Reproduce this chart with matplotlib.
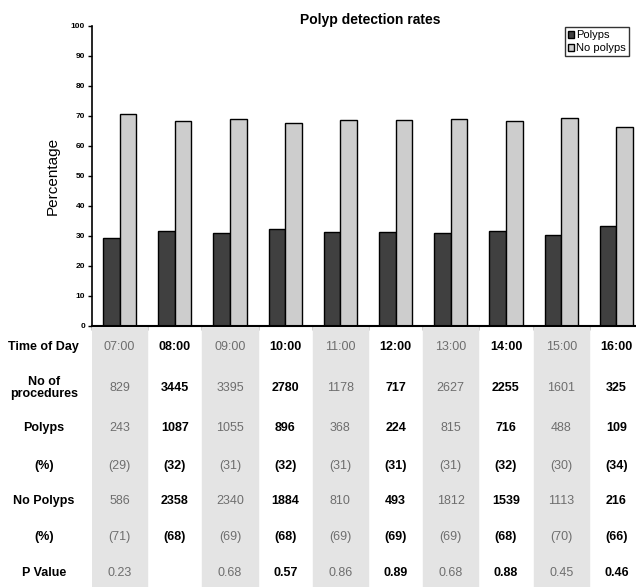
import matplotlib.pyplot as plt
import numpy as np

plt.rcParams['font.family'] = ['Liberation Sans', 'DejaVu Sans']

times = ["07:00", "08:00", "09:00", "10:00", "11:00", "12:00", "13:00", "14:00", "15:00", "16:00"]
polyps_pct = [29.3, 31.6, 31.1, 32.2, 31.2, 31.2, 31.0, 31.8, 30.5, 33.5]
no_polyps_pct = [70.7, 68.4, 68.9, 67.8, 68.8, 68.8, 69.0, 68.2, 69.5, 66.5]

n_procedures = ["829", "3445", "3395", "2780", "1178", "717", "2627", "2255", "1601", "325"]
n_polyps = ["243", "1087", "1055", "896", "368", "224", "815", "716", "488", "109"]
pct_polyps = ["(29)", "(32)", "(31)", "(32)", "(31)", "(31)", "(31)", "(32)", "(30)", "(34)"]
n_no_polyps = ["586", "2358", "2340", "1884", "810", "493", "1812", "1539", "1113", "216"]
pct_no_polyps = ["(71)", "(68)", "(69)", "(68)", "(69)", "(69)", "(69)", "(68)", "(70)", "(66)"]
p_values = ["0.23", "", "0.68", "0.57", "0.86", "0.89", "0.68", "0.88", "0.45", "0.46"]

row_labels = ["Time of Day", "No of\nprocedures", "Polyps", "(%)", "No Polyps", "(%)", "P Value"]
rows = [times, n_procedures, n_polyps, pct_polyps, n_no_polyps, pct_no_polyps, p_values]
row_y = [347, 388, 428, 466, 501, 537, 573]  # pixel rows in the table area

W, H = 636, 587
fig = plt.figure(figsize=(W/100, H/100), dpi=100)

# bar chart
ax = fig.add_axes([92/W, (H-326)/H, 552/W, 300/H])
x = np.arange(len(times))
bw = 0.3
ax.bar(x - bw/2, polyps_pct, bw, color="#404040", edgecolor="black", linewidth=1, label="Polyps")
ax.bar(x + bw/2, no_polyps_pct, bw, color="#cdcdcd", edgecolor="black", linewidth=1, label="No polyps")
ax.set_xlim(-0.5, len(times) - 0.5)
ax.set_ylim(0, 100)
ax.set_yticks(range(0, 101, 10))
ax.set_xticks(np.arange(-0.5, len(times), 1))
ax.set_xticklabels([])
ax.tick_params(axis="y", labelsize=6, length=3, width=1, pad=2)
ax.tick_params(axis="x", length=3, width=1, direction="out")
for lbl in ax.get_yticklabels():
    lbl.set_fontweight("bold")
ax.spines["top"].set_visible(False)
ax.spines["right"].set_visible(False)
ax.spines["left"].set_linewidth(1.2)
ax.spines["bottom"].set_linewidth(1.5)
ax.set_ylabel("Percentage", fontsize=11, labelpad=8)
fig.text(370/W, 1 - 20/H, "Polyp detection rates", ha="center", va="center", fontsize=10, fontweight="bold")

fig.legend(loc="upper left", bbox_to_anchor=(565/W, 1 - 27/H), fontsize=8, frameon=True,
           fancybox=False, edgecolor="black", handlelength=0.55, handleheight=0.55,
           handletextpad=0.15, borderpad=0.3, labelspacing=0.25, borderaxespad=0)

# table beneath
tax = fig.add_axes([92/W, 0, 552/W, (H-327)/H])
tax.set_xlim(-0.5, len(times) - 0.5)
tax.set_ylim(H, 327)
tax.axis("off")
for i in range(len(times)):
    shaded = i % 2 == 0
    if shaded:
        tax.axvspan(i - 0.5, i + 0.5, color="#e4e4e4", zorder=0)
    for vals, yy in zip(rows, row_y):
        tax.text(i, yy, vals[i], ha="center", va="center", fontsize=9,
                 color="#6e6e6e" if shaded else "black",
                 fontweight="normal" if shaded else "bold")

for lab, yy in zip(row_labels, row_y):
    tax.text(-0.5 - 48/55, yy, lab, ha="center", va="center", fontsize=9,
             fontweight="bold", clip_on=False, linespacing=1.1)

fig.savefig("out.png", dpi=100)
